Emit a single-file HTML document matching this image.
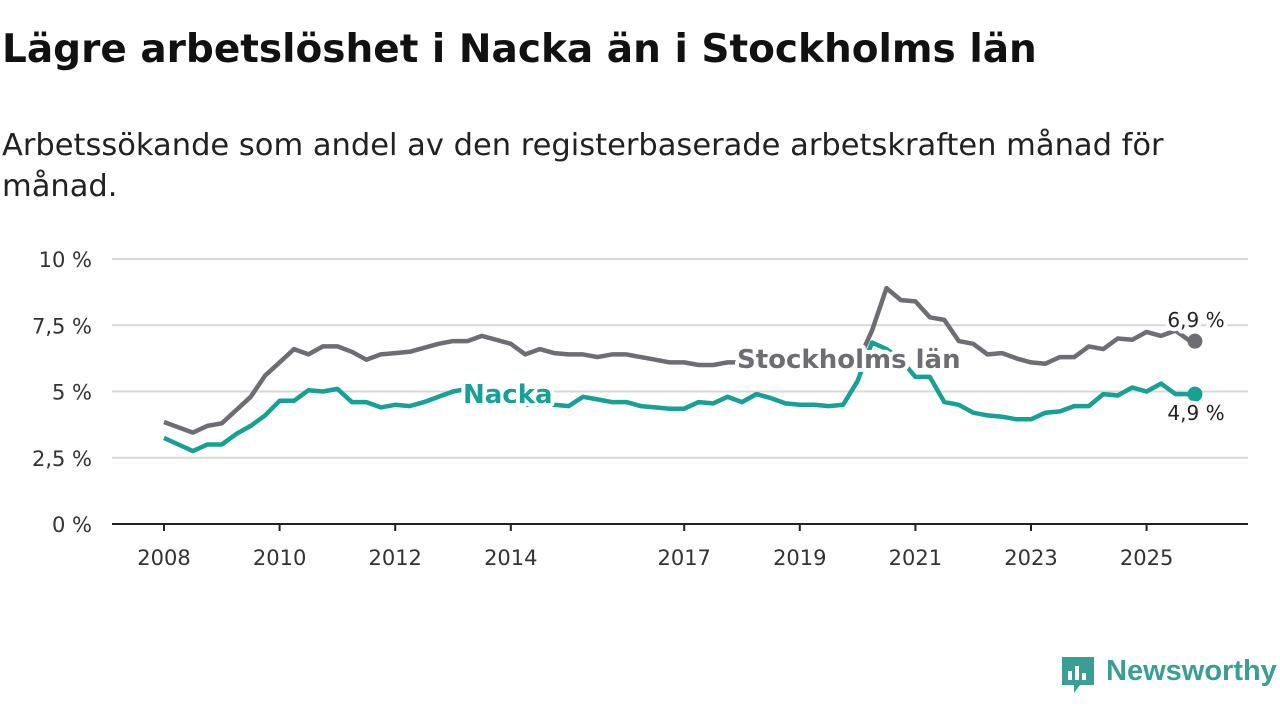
<!DOCTYPE html>
<html><head><meta charset="utf-8"><style>
body{margin:0;background:#fff;width:1280px;height:720px;overflow:hidden;font-family:"DejaVu Sans","Liberation Sans",sans-serif}
h1{position:absolute;left:2px;top:27px;margin:0;font-size:39px;font-weight:bold;color:#111;white-space:nowrap}
.sub{position:absolute;left:2px;top:125px;margin:0;font-size:30.5px;line-height:41px;color:#222;width:1270px}
svg{position:absolute;left:0;top:0}
</style></head><body>
<h1>Lägre arbetslöshet i Nacka än i Stockholms län</h1>
<p class="sub">Arbetssökande som andel av den registerbaserade arbetskraften månad för<br>månad.</p>
<svg id="chart" width="1280" height="720"></svg>
<script>
const startYear = 2008;
const stepYear = 0.25;
const stockholm = [3.85,3.65,3.45,3.7,3.8,4.3,4.8,5.6,6.1,6.6,6.4,6.7,6.7,6.5,6.2,6.4,6.45,6.5,6.65,6.8,6.9,6.9,7.1,6.95,6.8,6.4,6.6,6.45,6.4,6.4,6.3,6.4,6.4,6.3,6.2,6.1,6.1,6.0,6.0,6.1,6.1,6.1,6.1,6.1,6.1,6.0,6.0,6.0,6.1,7.3,8.9,8.45,8.4,7.8,7.7,6.9,6.8,6.4,6.45,6.25,6.1,6.05,6.3,6.3,6.7,6.6,7.0,6.95,7.25,7.1,7.3,6.9];
const nacka = [3.25,3.0,2.75,3.0,3.0,3.4,3.7,4.1,4.65,4.65,5.05,5.0,5.1,4.6,4.6,4.4,4.5,4.45,4.6,4.8,5.0,5.1,4.8,4.7,4.6,4.5,4.5,4.5,4.45,4.8,4.7,4.6,4.6,4.45,4.4,4.35,4.35,4.6,4.55,4.8,4.6,4.9,4.75,4.55,4.5,4.5,4.45,4.5,5.4,6.85,6.6,6.2,5.55,5.55,4.6,4.5,4.2,4.1,4.05,3.95,3.95,4.2,4.25,4.45,4.45,4.9,4.85,5.15,5.0,5.3,4.9,4.9];
const yTicks = [0,2.5,5,7.5,10];
const yTickLabels = ["0 %","2,5 %","5 %","7,5 %","10 %"];
const xTicks = [2008,2010,2012,2014,2017,2019,2021,2023,2025];

const NS="http://www.w3.org/2000/svg";
const svg=document.getElementById('chart');
const X=y=>164+(y-2008)*57.8;
const Y=v=>524-v*26.5;
function mk(t,a,p){const e=document.createElementNS(NS,t);for(const k in a)e.setAttribute(k,a[k]);(p||svg).appendChild(e);return e;}
yTicks.forEach((v,i)=>{
  if(v>0){const g=mk('line',{x1:112,x2:1248,y1:Y(v),y2:Y(v),stroke:'#d9d9d9','stroke-width':2});
  
  }
  const t=mk('text',{x:92,y:Y(v)+8,'text-anchor':'end','font-size':21,fill:'#333'});
  t.textContent=yTickLabels[i];
  
  
});
const ax=mk('line',{x1:112,x2:1248,y1:524,y2:524,stroke:'#222','stroke-width':2});


xTicks.forEach(yr=>{
  const tk=mk('line',{x1:X(yr),x2:X(yr),y1:524,y2:531,stroke:'#222','stroke-width':2});
  
  
  const t=mk('text',{x:X(yr),y:565,'text-anchor':'middle','font-size':21,fill:'#333'});
  t.textContent=yr;
  
  
});
function line(arr,col,name){
  const d=arr.map((v,i)=>(i?'L':'M')+X(startYear+i*stepYear).toFixed(1)+' '+Y(v).toFixed(1)).join(' ');
  const p=mk('path',{d:d,fill:'none',stroke:col,'stroke-width':4.5,'stroke-linejoin':'round'});
  
  
  const n=arr.length-1;
  const c=mk('circle',{cx:X(startYear+n*stepYear)+5,cy:Y(arr[n]),r:7.5,fill:col});
  
  
}
line(stockholm,'#6e6d73','stockholm-line');
line(nacka,'#16a096','nacka-line');
function lab(txt,x,y,col,size,w,name,anchor){
  const t=mk('text',{x:x,y:y,'font-size':size,'font-weight':w,fill:col,stroke:'#fff','stroke-width':8,'paint-order':'stroke','stroke-linejoin':'round','text-anchor':anchor||'start'});
  t.textContent=txt;
  
  
}
lab('Stockholms län',737,368,'#6e6d73',26,'bold','stockholm-label');
lab('Nacka',463,403,'#16a096',26,'bold','nacka-label');
lab('6,9 %',1196,327,'#222',20,'normal','stockholm-value-label','middle');
lab('4,9 %',1196,420,'#222',20,'normal','nacka-value-label','middle');
</script>
<div style="position:absolute;left:1060px;top:655px;height:40px">
<svg width="36" height="40" style="position:absolute;left:0;top:0"><path d="M2 2h32v28H20l-6 8v-8H2z" fill="#3a9e95"/><rect x="8" y="16" width="4" height="9" fill="#fff"/><rect x="15" y="11" width="4" height="14" fill="#fff"/><rect x="22" y="18" width="4" height="7" fill="#fff"/></svg>
<span style="position:absolute;left:46px;top:0;font-size:29px;color:#3a9e95;font-weight:bold;white-space:nowrap;font-family:'Liberation Sans',sans-serif">Newsworthy</span>
</div>
</body></html>
